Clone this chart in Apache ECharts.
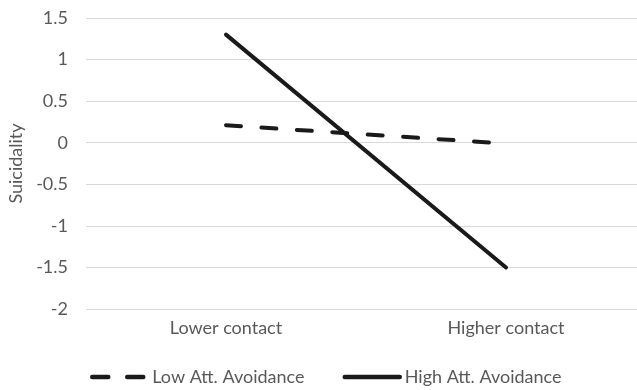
<!DOCTYPE html>
<html>
<head>
<meta charset="utf-8">
<script src="https://cdn.jsdelivr.net/npm/echarts@6/dist/echarts.min.js"></script>
<style>html,body{margin:0;padding:0;background:#fff}#c{width:637px;height:390px}</style>
</head>
<body>
<div id="c"></div>
<script>
var categories = ['Lower contact', 'Higher contact'];
var lowAvoidance = [0.21, -0.01];
var highAvoidance = [1.30, -1.50];
var yMin = -2, yMax = 1.5, yStep = 0.5;

var FONT = 'Lato';
var TXT = '#595959';
var chart = echarts.init(document.getElementById('c'), null, {renderer: 'canvas'});
chart.setOption({
  animation: false,
  backgroundColor: '#ffffff',
  grid: {left: 86, top: 18, right: -9, bottom: 81, containLabel: false, outerBoundsMode: 'none'},
  xAxis: {
    type: 'category',
    data: categories,
    boundaryGap: true,
    axisLine: {show: false},
    axisTick: {show: false},
    axisLabel: {color: TXT, fontFamily: FONT, fontSize: 18, margin: 10}
  },
  yAxis: {
    type: 'value',
    min: yMin, max: yMax, interval: yStep,
    name: 'Suicidality',
    nameLocation: 'middle',
    nameGap: 60,
    nameTextStyle: {color: TXT, fontFamily: FONT, fontSize: 18},
    axisLine: {show: false},
    axisTick: {show: false},
    axisLabel: {color: TXT, fontFamily: FONT, fontSize: 18, margin: 18},
    splitLine: {lineStyle: {color: '#d9d9d9', width: 1}}
  },
  legend: {
    top: 363,
    left: 85,
    itemWidth: 55,
    itemHeight: 20,
    itemGap: 38,
    itemStyle: {opacity: 0},
    lineStyle: {width: 4.5, cap: 'round'},
    textStyle: {color: TXT, fontFamily: FONT, fontSize: 18},
    data: [
      {name: 'Low Att. Avoidance', lineStyle: {type: [16, 19], width: 4.5, cap: 'round'}},
      {name: 'High Att. Avoidance', lineStyle: {type: 'solid', width: 4.5, cap: 'round'}}
    ]
  },
  series: [
    {
      name: 'Low Att. Avoidance', type: 'line', data: lowAvoidance,
      symbol: 'none', color: '#1a1a1a',
      lineStyle: {color: '#1a1a1a', width: 4, type: [15, 20.5], cap: 'round'}
    },
    {
      name: 'High Att. Avoidance', type: 'line', data: highAvoidance,
      symbol: 'none', color: '#1a1a1a',
      lineStyle: {color: '#1a1a1a', width: 4, type: 'solid', cap: 'round'}
    }
  ]
});
</script>
</body>
</html>
